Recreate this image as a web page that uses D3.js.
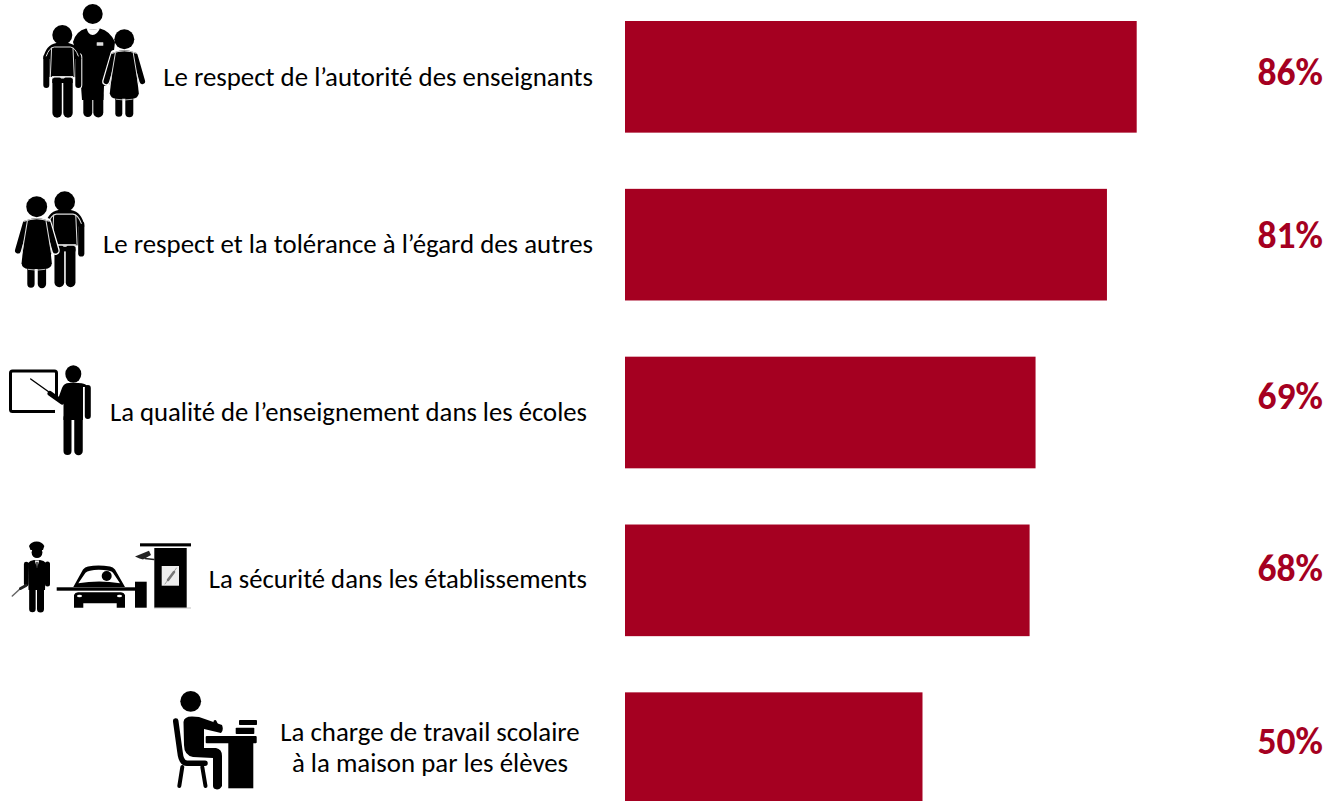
<!DOCTYPE html>
<html><head><meta charset="utf-8">
<script src="https://cdn.jsdelivr.net/npm/d3@7"></script>
<style>html,body{margin:0;background:#fff}svg{display:block}</style></head>
<body><svg id="c" width="1325" height="801"></svg>
<script>
const categories=["Le respect de l’autorité des enseignants","Le respect et la tolérance à l’égard des autres","La qualité de l’enseignement dans les écoles","La sécurité dans les établissements","La charge de travail scolaire|à la maison par les élèves"];
const values=[86,81,69,68,50];
const labelRight=[593,593,587,587,580];
const labelSize=[26.85,26.85,26.7,26.7,26.85];
const svg=d3.select("#c");
const x=d3.scaleLinear().domain([0,100]).range([625,1220]);
const y=d3.scaleBand().domain(d3.range(5)).range([21,804]).paddingInner(0.3348).paddingOuter(0);
svg.selectAll("rect.bar").data(values).join("rect").attr("class","bar").attr("x",x(0)).attr("y",(d,i)=>y(i)).attr("width",d=>x(d)-x(0)).attr("height",y.bandwidth()).attr("fill","#a50021");
const font="Carlito, 'Open Sans', 'Noto Sans', sans-serif";
svg.selectAll("text.v").data(values).join("text").attr("class","v").attr("x",1323).attr("y",(d,i)=>[85,248,409,581,754][i]).attr("text-anchor","end").attr("font-family",font).attr("font-weight",700).attr("font-size",37.6).attr("fill","#a50021").text(d=>d+"%");
categories.forEach((c,i)=>{const lines=c.split("|");lines.forEach((l,j)=>{
 svg.append("text").attr("x",lines.length>1?430:labelRight[i]).attr("y",lines.length>1?741+j*31:[86,253,421,588][i]).attr("text-anchor",lines.length>1?"middle":"end").attr("font-family",font).attr("font-size",labelSize[i]).attr("fill","#000").text(l);});});

// decorative pictograms (not data)
const g=svg.append("g");
const K="#000",W="#fff";
const ln=(p,x1,y1,x2,y2,w,c=K,cap="round")=>p.append("line").attr("x1",x1).attr("y1",y1).attr("x2",x2).attr("y2",y2).attr("stroke",c).attr("stroke-width",w).attr("stroke-linecap",cap);
const box=(p,x0,y0,x1,y1,c=K,r=0)=>p.append("rect").attr("x",x0).attr("y",y0).attr("width",x1-x0).attr("height",y1-y0).attr("rx",r).attr("fill",c);
const dot=(p,cx,cy,rx,ry=rx,c=K)=>p.append("ellipse").attr("cx",cx).attr("cy",cy).attr("rx",rx).attr("ry",ry).attr("fill",c);
const path=(p,d,c=K)=>p.append("path").attr("d",d).attr("fill",c);
const curve=(p,d,c,w)=>p.append("path").attr("d",d).attr("fill","none").attr("stroke",c).attr("stroke-width",w).attr("stroke-linecap","round");
const at=(hx,hy,s)=>g.append("g").attr("transform",`translate(${hx},${hy}) scale(${s})`);

function boy(hx,hy,s){const p=at(hx,hy,s);
 [-1,1].forEach(d=>{ln(p,d*16,22,d*16,50,8,W);});
 [-1,1].forEach(d=>{ln(p,d*16,22,d*16,50,6);});
 path(p,"M-19,24 Q-17,10 -6,8 L6,8 Q17,10 19,24 L13,24 L13,42 L-13,42 L-13,24 Z");
 ln(p,-5.2,46,-5.2,78,9.4);ln(p,5.7,46,5.7,78,9.4);box(p,-10,43.5,10.4,48);
 [-1,1].forEach(d=>{ln(p,d*10.7,13,d*12,42,1,"#ddd");});
 curve(p,"M-16,21 Q-13,12.5 -8,12 L8,12 Q13,12.5 16,21","#ddd",1);
 box(p,-10.5,41,10.8,42.6,"#ddd");
 dot(p,0,0,10);
}
function girl(hx,hy,s){const p=at(hx,hy,s);
 ln(p,-5.5,60,-5.5,74,7);ln(p,5,60,5,74,8);
 [-1,1].forEach(d=>ln(p,d*10,15,d*18,42,8.2,W));
 path(p,"M-10,13 Q0,9 10,13 L14.5,54 Q14,59 8,59.5 L-8,59.5 Q-14,59 -14.5,54 Z");
 [-1,1].forEach(d=>ln(p,d*10.5,16,d*18,42,5.6));
 curve(p,"M-9,14 L-14,44","#ddd",1);curve(p,"M9,14 L14,44","#ddd",1);
 curve(p,"M-12,14 Q0,9 12,14","#ddd",1);
 curve(p,"M-8,60 Q0,61.5 8,60","#ddd",.8);
 dot(p,0,0,10);
}
function lead(){const p=g.append("g");
 dot(p,92.7,14,10);
 path(p,"M73,42 Q76,31 86,28.5 Q92.7,31 100,28.5 Q110,31 115,42 L110,84 L104,86 L103.5,100 L82,100 L81,86 L78,60 Z");
 ln(p,87.8,95,87.8,112.5,9);ln(p,98.3,95,98.3,112.5,10);
 box(p,96.7,42.3,103.3,45.7,"#ddd",.5);
 path(p,"M86.7,28.3 Q92.7,31 100,28.3 Q97,35 92.7,35 Q88,35 86.7,28.3 Z",W);
}
lead();boy(62.3,35,1);girl(124.3,39.3,1);
boy(64.7,201.7,1.035);girl(36.7,206.7,1.045);

// teacher at the board
(function(){const p=g.append("g");
 p.append("rect").attr("x",10.5).attr("y",371).attr("width",46).attr("height",40.5).attr("rx",2).attr("fill","none").attr("stroke",K).attr("stroke-width",3);
 ln(p,30.7,379,50,392.7,1.4);
 box(p,55,396,64,415,W);
 ln(p,50,393.5,62,402,5);
 dot(p,73.3,374,8,8.7);
 path(p,"M62,388 Q64,383 69,383 L78,383 Q86,383 88,387 L83,387 L83,420 L63.5,420 L63.5,402 L58,399 Z");
 ln(p,87.8,388,87.8,416,6);
 ln(p,67.5,418,67.5,451,8);ln(p,78.5,418,78.5,451,8.5);
})();

// guard, car and booth
(function(){const p=g.append("g");
 path(p,"M29,546 Q31,541.5 36.7,541.5 Q42,541.5 44.3,546 L43,550 L30.5,550 Z");
 dot(p,37,552.5,5.4,5.6);
 path(p,"M28,563 Q30,560.5 34,560 L40,560 Q44,560.5 46,563 L45,590 L28.5,590 Z");
 ln(p,26.2,564,26.2,584,4.6);ln(p,47.5,564,47.5,584,5);
 ln(p,32.4,588,32.4,609,6.5);ln(p,40.5,588,40.5,609,7);
 path(p,"M34.8,560.5 L39.2,560.5 L37,568 Z",W);ln(p,37,562.5,37,567,1.3);
 ln(p,12.3,596,21,588,1.5,"#666");ln(p,20.5,588.5,26,585.5,3,"#222");
 // car
 path(p,"M73.3,587 L83,569.5 Q85,567 88,566.5 Q98,564.3 110,566.5 Q113,567 115,569.5 L125,587 Z");
 path(p,"M78.3,583.3 L85.5,572.7 Q87,571 90,570.7 Q98,569 109,570.7 Q112,571 113,572.7 L120,583.3 Q99,579.5 78.3,583.3 Z",W);
 dot(p,106.7,576,5);
 box(p,56.7,587.3,135,590.7);
 path(p,"M74,595 Q75,592.5 78,592.3 L121,592.3 Q124,592.5 125,595 L125,607.7 L116.7,607.7 L116.7,603.3 L83.3,603.3 L83.3,607.7 L74,607.7 Z");
 dot(p,79.5,596,2.5,1.2,W);dot(p,119.5,596,2.5,1.2,W);
 box(p,135,581.7,146.7,607.7);
 // booth
 box(p,140,543.3,191,546.4);box(p,154.3,548,186.7,607.7);box(p,154,607.7,191,608.3,"#999");
 box(p,161.7,566,179,585.7,"#eee");
 ln(p,165,584,176.5,568,.9,"#999");ln(p,168,580,174,572,2.6,"#777");
 path(p,"M135,556.5 L149,550.7 L151,555 L143,559.5 L139.5,558.5 Z","#222");
 ln(p,145,558.5,154,559.5,1.3,"#222");
})();

// student at desk
(function(){const p=g.append("g");
 dot(p,190.7,701.3,10.4);
 curve(p,"M175.7,721 L180,752 Q181,763 187,763.3 L205,763.3",K,5.5);
 ln(p,182.3,767,179.3,786,4);ln(p,202.3,767,205.5,786,4);
 path(p,"M183.5,722 Q184,716.5 192,716.5 L199,717 L222,725 Q224,730 221,733 L204,729 L204,748 L216,748 Q222,749 222,756 L222,786 Q220,789.5 217,789.5 Q213,789 213,786 L213,758 L193,757 Q184,755 184,745 Z");
 ln(p,215,721.5,218.3,728.3,3);
 box(p,205.7,736,256.7,743.3,K,1);box(p,228.3,743,253.3,788.3);
 box(p,235.7,727.7,254.3,734,K,.8);box(p,239,720,257,725,K,.8);
})();
</script></body></html>
